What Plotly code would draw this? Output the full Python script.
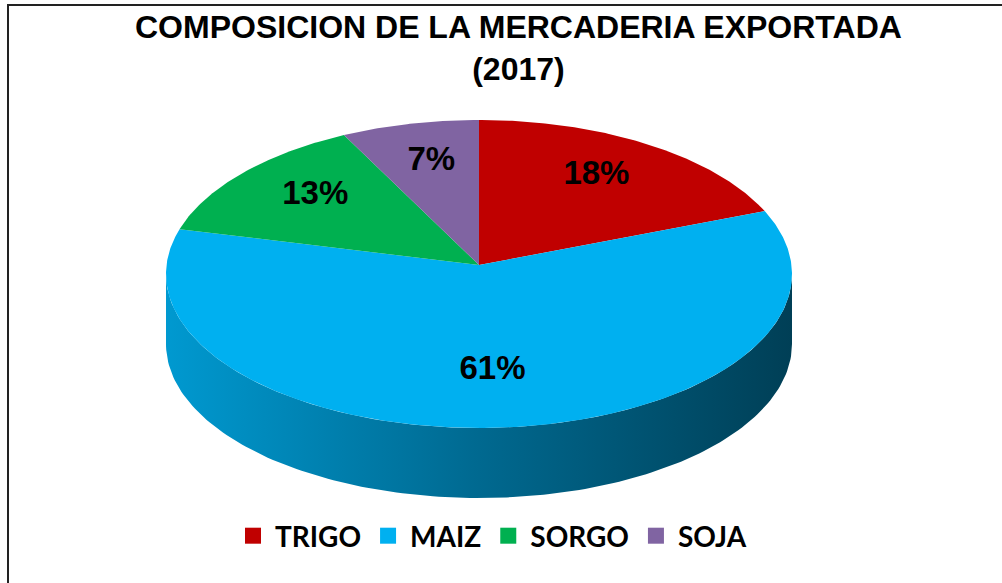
import numpy as np
import plotly.graph_objects as go

# ---------------- data ----------------
categories = ["TRIGO", "MAIZ", "SORGO", "SOJA"]
values = [18.3, 61.4, 13.2, 7.1]
labels = ["18%", "61%", "13%", "7%"]
colors = ["#C00000", "#00B0F0", "#00B050", "#8064A2"]
title_text = "COMPOSICION DE LA MERCADERIA EXPORTADA<br>(2017)"

# ---------------- geometry of the drawing canvas (pixels) ----------------
W, H = 1002, 583
CX, CY = 479, 274      # centre of the top ellipse
RX, RY = 313, 154      # radii of the top ellipse
APEX_Y = 265           # point where the wedges meet
DEPTH = 70             # thickness of the pie
LABEL_R = 0.69         # radial position of the percentage labels


def hex_rgb(h):
    h = h.lstrip("#")
    return tuple(int(h[i:i + 2], 16) for i in (0, 2, 4))


def shade(h, k):
    r, g, b = hex_rgb(h)
    return "rgb(%d,%d,%d)" % (min(255, r * k), min(255, g * k), min(255, b * k))


def ell(t_deg, dy=0.0):
    t = np.radians(t_deg)
    return CX + RX * np.cos(t), CY - RY * np.sin(t) + dy


total = float(sum(values))
fracs = np.cumsum([0.0] + [v / total for v in values])

fig = go.Figure()

# ---- side walls (front half of the cylinder, 180..360 deg) ----
for i, c in enumerate(categories):
    t0 = 90 - 360 * fracs[i]
    t1 = 90 - 360 * fracs[i + 1]
    lo, hi = t1, t0
    for shift in (-720, -360, 0, 360):
        a, b = max(lo + shift, 180), min(hi + shift, 360)
        if b > a:
            ts = np.linspace(a, b, 160)
            xt, yt = ell(ts)
            xb, yb = ell(ts[::-1], DEPTH)
            fig.add_trace(go.Scatter(
                x=np.concatenate([xt, xb, xt[:1]]),
                y=np.concatenate([yt, yb, yt[:1]]),
                mode="lines", line=dict(width=0), fill="toself",
                fillgradient=dict(type="horizontal",
                                  colorscale=[[0, shade(colors[i], 0.87)],
                                              [0.5, shade(colors[i], 0.6)],
                                              [1, shade(colors[i], 0.36)]],
                                  start=CX - RX, stop=CX + RX),
                hoverinfo="skip", showlegend=False))

# ---- top wedges ----
for i, c in enumerate(categories):
    t0 = 90 - 360 * fracs[i]
    t1 = 90 - 360 * fracs[i + 1]
    ts = np.linspace(t0, t1, max(4, int(abs(t0 - t1) * 2)))
    xe, ye = ell(ts)
    fig.add_trace(go.Scatter(
        x=np.concatenate([[CX], xe, [CX]]),
        y=np.concatenate([[APEX_Y], ye, [APEX_Y]]),
        mode="lines", line=dict(width=0, color=colors[i]), fill="toself",
        fillcolor=colors[i], name=c, hoverinfo="name", showlegend=False))

# ---- percentage labels ----
mids = [90 - 360 * (fracs[i] + fracs[i + 1]) / 2 for i in range(len(categories))]
lx = [CX + LABEL_R * RX * np.cos(np.radians(m)) for m in mids]
ly = [APEX_Y - LABEL_R * RY * np.sin(np.radians(m)) for m in mids]
fig.add_trace(go.Scatter(
    x=lx, y=ly, mode="text", text=labels,
    textfont=dict(family="Liberation Sans, Arial", size=33, color="black", weight="bold"),
    hoverinfo="skip", showlegend=False))

# ---- legend entries ----
for i, c in enumerate(categories):
    fig.add_trace(go.Scatter(
        x=[None], y=[None], mode="markers", name=c,
        marker=dict(symbol="square", size=17, color=colors[i]),
        showlegend=True))

fig.update_layout(
    width=W, height=H,
    margin=dict(l=0, r=0, t=0, b=0),
    paper_bgcolor="white", plot_bgcolor="white",
    xaxis=dict(range=[0, W], visible=False, fixedrange=True),
    yaxis=dict(range=[H, 0], visible=False, fixedrange=True),
    showlegend=True,
    legend=dict(orientation="h", x=231 / W, y=1 - 511 / H,
                xanchor="left", yanchor="top", itemwidth=34,
                font=dict(family="Lato, Liberation Sans", size=28, color="black", weight="bold"),
                bgcolor="rgba(0,0,0,0)"),
    annotations=[dict(text=title_text, x=518, y=7, xref="x", yref="y",
                      xanchor="center", yanchor="top", showarrow=False,
                      font=dict(family="Liberation Sans, Arial", size=32, color="black", weight="bold"))],
    shapes=[dict(type="rect", xref="x", yref="y", x0=8, y0=5, x1=W + 40, y1=H + 40,
                 line=dict(color="#222222", width=2), layer="above")],
)

fig.write_html("out.html", config={"displayModeBar": False, "responsive": False},
               post_script="document.body.style.margin='0';document.body.style.overflow='hidden';")
